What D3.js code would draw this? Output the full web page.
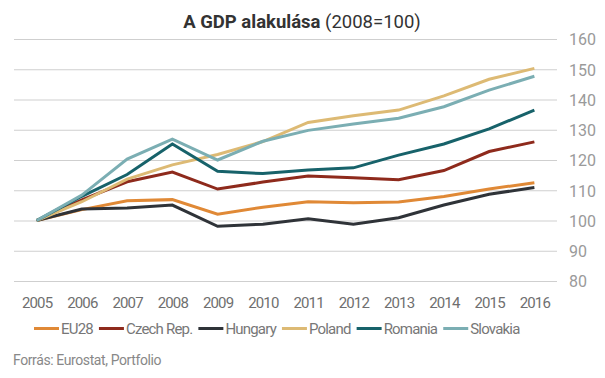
<!DOCTYPE html>
<html><head><meta charset="utf-8">
<script src="https://cdn.jsdelivr.net/npm/d3@7"></script>
<style>
body{margin:0;background:#fff;}
svg text{font-family:Roboto,"Noto Sans",sans-serif;}
</style></head>
<body><svg id="c" width="605" height="378"></svg>
<script>
const years = [2005,2006,2007,2008,2009,2010,2011,2012,2013,2014,2015,2016];
const seriesNames = ["EU28","Czech Rep.","Hungary","Poland","Romania","Slovakia"];
const eu28     = [100,103.6,106.5,106.9,102.1,104.4,106.2,105.9,106.1,107.9,110.4,112.5];
const czech    = [100,106.8,112.8,116.0,110.4,112.7,114.7,114.1,113.5,116.5,122.8,126.0];
const hungary  = [100,103.8,104.1,105.1,98.1,98.8,100.6,98.8,100.9,105.1,108.7,110.9];
const poland   = [100,106.2,113.7,118.4,121.8,126.1,132.4,134.6,136.5,141.2,146.7,150.3];
const romania  = [100,108.0,115.2,125.3,116.3,115.5,116.7,117.4,121.6,125.3,130.3,136.5];
const slovakia = [100,108.4,120.3,126.9,120.0,126.2,129.8,131.9,133.8,137.6,143.1,147.7];
const yTicks = [80,90,100,110,120,130,140,150,160];
const colors = ["#E08936","#8E2A1C","#2F3338","#DDBA74","#17626A","#7BAEB3"];
const allSeries = [eu28,czech,hungary,poland,romania,slovakia];

const svg = d3.select("#c");
const x = d3.scalePoint().domain(years).range([14,557]).padding(0.5);
const y = d3.scaleLinear().domain([80,160]).range([281,39]);

// grid
svg.append("g").selectAll("line").data(yTicks).join("line")
  .attr("x1",14).attr("x2",557)
  .attr("y1",d=>y(d)+0.5).attr("y2",d=>y(d)+0.5)
  .attr("stroke","#cfcfcf").attr("stroke-width",1.2);

// y axis labels (right)
const yAxis = d3.axisRight(y).tickValues(yTicks).tickSize(0).tickPadding(0);
const ya = svg.append("g").attr("transform","translate(569,0)").call(yAxis);
ya.select(".domain").remove();
ya.selectAll("text").attr("fill","#9a9a9a").style("font-size","16px").attr("x",0).attr("dy","0.36em");

// x axis labels
const xAxis = d3.axisBottom(x).tickSize(0).tickPadding(0).tickFormat(d3.format("d"));
const xa = svg.append("g").attr("transform","translate(0,297)").call(xAxis);
xa.select(".domain").remove();
xa.selectAll("text").attr("fill","#6f6f6f").style("font-size","15px").style("letter-spacing","-0.9px").attr("dy","0.71em");

// lines
const line = d3.line().x((d,i)=>x(years[i])).y(d=>y(d));
svg.append("g").selectAll("path").data(allSeries).join("path")
  .attr("d",line).attr("fill","none")
  .attr("stroke",(d,i)=>colors[i]).attr("stroke-width",3)
  .attr("stroke-linejoin","miter").attr("stroke-linecap","butt");

// title
const t = svg.append("text").attr("x",302).attr("y",28).attr("text-anchor","middle")
  .attr("fill","#333").style("font-size","18.5px");
t.append("tspan").style("font-weight","bold").text("A GDP alakulása ");
t.append("tspan").text("(2008=100)");

// legend
const lg = svg.append("g");
let lx = 34;
seriesNames.forEach((n,i)=>{
  lg.append("line").attr("x1",lx).attr("x2",lx+25).attr("y1",328.5).attr("y2",328.5)
    .attr("stroke",colors[i]).attr("stroke-width",3);
  const tx = lg.append("text").attr("x",lx+27).attr("y",333.5).attr("fill","#777")
    .style("font-size","15px").style("letter-spacing","-0.8px").text(n);
  lx += 27 + tx.node().getComputedTextLength() + 6;
});

// source
svg.append("text").attr("x",13).attr("y",365).attr("fill","#888")
  .style("font-size","14px").style("letter-spacing","-0.4px").text("Forrás: Eurostat, Portfolio");
</script></body></html>
